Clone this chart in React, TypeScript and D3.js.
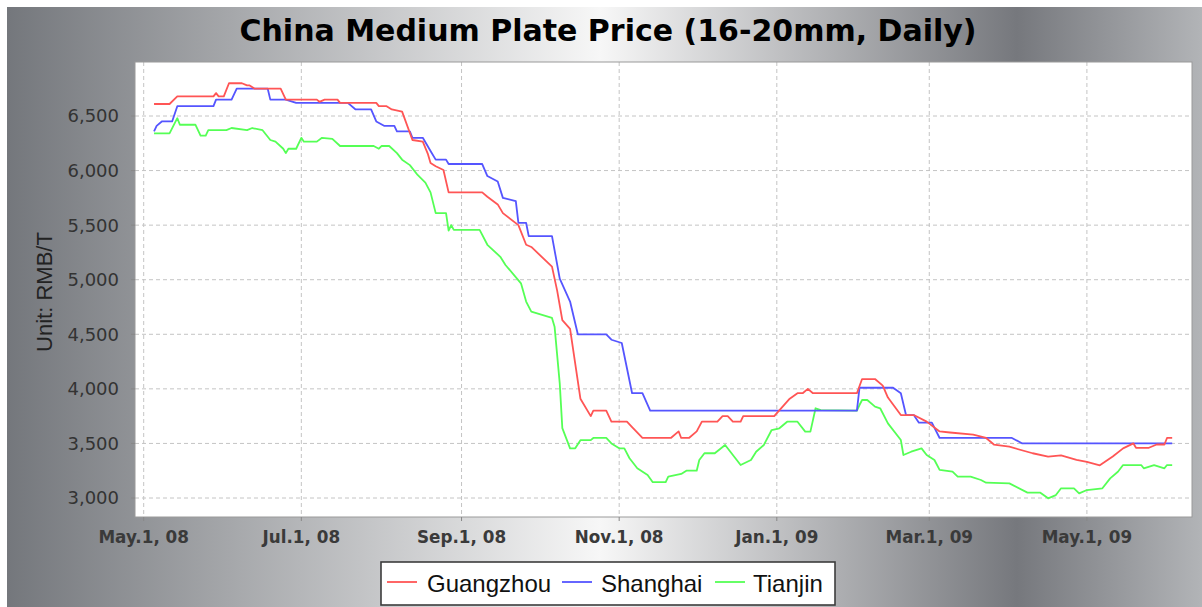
import React, { useEffect } from "react";
import * as d3 from "d3";

// ---- data (day offset from May 1, 2008, price RMB/T) ----
const guangzhou: [number, number][] = [
  [4, 6610], [10, 6610], [13, 6680], [27, 6680], [28, 6710], [29, 6680], [31, 6680], [33, 6800],
  [38, 6800], [40, 6780], [41, 6780], [43, 6750], [53, 6750], [55, 6650], [67, 6650], [68, 6630],
  [70, 6650], [75, 6650], [76, 6620], [90, 6620], [91, 6590], [94, 6590], [96, 6560], [100, 6540],
  [104, 6280], [108, 6265], [110, 6150], [111, 6070], [113, 6040], [116, 6005], [118, 5800],
  [131, 5800], [133, 5760], [137, 5690], [139, 5610], [145, 5500], [148, 5320], [150, 5300],
  [158, 5120], [160, 4900], [162, 4630], [165, 4550], [169, 3910], [173, 3750], [174, 3800],
  [179, 3800], [181, 3700], [187, 3700], [189, 3650], [193, 3550], [204, 3550], [207, 3610],
  [208, 3550], [211, 3550], [214, 3610], [216, 3700], [222, 3700], [224, 3750], [226, 3750],
  [228, 3700], [231, 3700], [232, 3750], [244, 3750], [250, 3910], [253, 3960], [255, 3960],
  [257, 4000], [259, 3960], [276, 3960], [278, 4090], [283, 4090], [286, 4030], [288, 3920],
  [293, 3760], [298, 3760], [303, 3700], [308, 3610], [312, 3600], [321, 3580], [326, 3550],
  [329, 3490], [335, 3470], [344, 3410], [350, 3380], [355, 3390], [361, 3350], [365, 3330],
  [370, 3300], [375, 3380], [379, 3455], [383, 3500], [384, 3460], [389, 3460], [392, 3490],
  [395, 3490], [396, 3550], [398, 3550],
];

const shanghai: [number, number][] = [
  [4, 6360], [5, 6410], [7, 6450], [11, 6450], [13, 6590], [27, 6590], [28, 6650], [34, 6650],
  [36, 6750], [48, 6750], [49, 6650], [55, 6650], [59, 6620], [79, 6620], [82, 6560], [88, 6560],
  [90, 6450], [93, 6410], [97, 6410], [98, 6360], [103, 6360], [104, 6300], [108, 6300],
  [111, 6180], [113, 6100], [117, 6100], [118, 6060], [131, 6060], [133, 5950], [137, 5900],
  [139, 5750], [144, 5720], [145, 5520], [148, 5520], [149, 5400], [158, 5400], [161, 5010],
  [165, 4800], [168, 4500], [179, 4500], [181, 4450], [185, 4420], [189, 3960], [193, 3960],
  [196, 3800], [276, 3800], [277, 4010], [290, 4010], [293, 3960], [295, 3760], [298, 3760],
  [300, 3690], [305, 3690], [308, 3550], [336, 3550], [340, 3500], [398, 3500],
];

const tianjin: [number, number][] = [
  [4, 6340], [10, 6340], [13, 6480], [14, 6420], [20, 6420], [22, 6320], [24, 6320], [25, 6370],
  [32, 6370], [34, 6390], [40, 6370], [42, 6390], [46, 6370], [48, 6310], [49, 6280], [51, 6265],
  [54, 6200], [55, 6160], [56, 6200], [59, 6200], [61, 6300], [62, 6265], [67, 6265], [69, 6300],
  [73, 6290], [76, 6225], [89, 6225], [91, 6200], [92, 6225], [95, 6225], [98, 6160], [100, 6100],
  [103, 6050], [106, 5960], [109, 5890], [111, 5800], [113, 5610], [117, 5610], [118, 5450],
  [119, 5500], [120, 5456], [130, 5456], [133, 5320], [138, 5210], [140, 5135], [146, 4967],
  [148, 4800], [150, 4707], [158, 4650], [159, 4570], [161, 4050], [162, 3640], [165, 3455],
  [167, 3455], [169, 3530], [173, 3530], [174, 3550], [179, 3550], [181, 3500], [184, 3455],
  [186, 3455], [188, 3364], [191, 3272], [195, 3211], [197, 3145], [202, 3145], [203, 3195],
  [208, 3220], [210, 3250], [214, 3250], [215, 3348], [217, 3410], [221, 3410], [225, 3486],
  [231, 3302], [235, 3348], [237, 3424], [240, 3486], [243, 3623], [246, 3639], [249, 3699],
  [253, 3699], [256, 3608], [258, 3608], [260, 3822], [262, 3805], [276, 3800], [277, 3852],
  [278, 3898], [280, 3898], [283, 3837], [285, 3822], [288, 3684], [293, 3531], [294, 3394],
  [297, 3424], [301, 3455], [303, 3394], [306, 3348], [308, 3257], [313, 3241], [315, 3195],
  [320, 3195], [324, 3165], [326, 3140], [335, 3134], [342, 3049], [347, 3049], [350, 2997],
  [353, 3027], [355, 3089], [360, 3089], [362, 3043], [365, 3073], [371, 3089], [374, 3180],
  [377, 3241], [379, 3302], [386, 3302], [387, 3272], [391, 3302], [395, 3272], [396, 3302],
  [398, 3302],
];

const seriesNames = ["Guangzhou", "Shanghai", "Tianjin"];
const seriesColors = ["#ff5555", "#5555ff", "#55ff55"];
const xTickDates = ["2008-05-01", "2008-07-01", "2008-09-01", "2008-11-01", "2009-01-01", "2009-03-01", "2009-05-01"];
const xTickLabels = ["May.1, 08", "Jul.1, 08", "Sep.1, 08", "Nov.1, 08", "Jan.1, 09", "Mar.1, 09", "May.1, 09"];
const yTicks = [3000, 3500, 4000, 4500, 5000, 5500, 6000, 6500];
const title = "China Medium Plate Price (16-20mm, Daily)";
const yAxisTitle = "Unit: RMB/T";

const BASE = Date.UTC(2008, 4, 1);
const dayToDate = (d: number) => new Date(BASE + d * 86400000);

export default function App() {
  useEffect(() => {
    document.body.style.margin = "0";
  }, []);

  const W = 1202, H = 607;
  const plot = { left: 135, top: 62, right: 1192, bottom: 517 };

  const x = d3.scaleUtc()
    .domain([new Date("2008-05-01T00:00:00Z"), new Date("2009-05-01T00:00:00Z")])
    .range([143.7, 1086.9]);
  const y = d3.scaleLinear().domain([3000, 6500]).range([498, 116]);

  const line = d3.line<[number, number]>()
    .x((d) => x(dayToDate(d[0])))
    .y((d) => y(d[1]));

  const series = [guangzhou, shanghai, tianjin];
  const fmt = d3.format(",");
  const tickFont = "'DejaVu Sans', sans-serif";

  const legendItems = [
    { lx: 387, tx: 427 },
    { lx: 562, tx: 601 },
    { lx: 715, tx: 753 },
  ];

  return (
    <svg width={W} height={H} style={{ display: "block" }}>
      <defs>
        <linearGradient id="bg" gradientUnits="userSpaceOnUse" x1={7} y1={0} x2={1202} y2={0}>
          <stop offset={0} stopColor="#74777c" />
          <stop offset={(600 - 7) / 1195} stopColor="#f7f7f7" />
          <stop offset={(1017 - 7) / 1195} stopColor="#76787d" />
          <stop offset={1} stopColor="#b2b4b7" />
        </linearGradient>
        <clipPath id="plotclip">
          <rect x={plot.left} y={plot.top} width={plot.right - plot.left} height={plot.bottom - plot.top} />
        </clipPath>
      </defs>
      <rect x={0} y={0} width={W} height={H} fill="#ffffff" />
      <rect x={7} y={7} width={W - 7} height={H - 7} fill="url(#bg)" />

      <text x={608} y={41} textAnchor="middle" fontFamily={tickFont} fontWeight="bold" fontSize={30} fill="#000">
        {title}
      </text>

      {/* plot area */}
      <rect x={plot.left} y={plot.top} width={plot.right - plot.left} height={plot.bottom - plot.top} fill="#ffffff" />

      {/* grid */}
      {yTicks.map((v) => (
        <line key={"gy" + v} x1={plot.left} x2={plot.right} y1={y(v)} y2={y(v)}
          stroke="#c4c4c4" strokeWidth={1} strokeDasharray="4,3" />
      ))}
      {xTickDates.map((d) => {
        const xx = x(new Date(d + "T00:00:00Z"));
        return (
          <line key={"gx" + d} x1={xx} x2={xx} y1={plot.top} y2={plot.bottom}
            stroke="#c4c4c4" strokeWidth={1} strokeDasharray="4,3" />
        );
      })}

      <g clipPath="url(#plotclip)">
        {series.map((s, i) => ({ s, i })).reverse().map(({ s, i }) => (
          <path key={seriesNames[i]} d={line(s) || ""} fill="none" stroke={seriesColors[i]}
            strokeWidth={1.8} strokeLinejoin="round" />
        ))}
      </g>

      <rect x={plot.left} y={plot.top} width={plot.right - plot.left} height={plot.bottom - plot.top}
        fill="none" stroke="#9a9a9a" strokeWidth={1} />

      {/* y axis */}
      {yTicks.map((v) => (
        <g key={"ty" + v}>
          <line x1={plot.left - 4} x2={plot.left} y1={y(v)} y2={y(v)} stroke="#888" />
          <text x={119} y={y(v)} dy="0.36em" textAnchor="end" fontFamily={tickFont} fontSize={18} fill="#333">
            {fmt(v)}
          </text>
        </g>
      ))}
      <text transform="translate(52,292) rotate(-90)" textAnchor="middle"
        fontFamily="'Liberation Sans', Arial, sans-serif" fontSize={22} fill="#222">
        {yAxisTitle}
      </text>

      {/* x axis */}
      {xTickDates.map((d, i) => {
        const xx = x(new Date(d + "T00:00:00Z"));
        return (
          <g key={"tx" + d}>
            <line x1={xx} x2={xx} y1={plot.bottom} y2={plot.bottom + 4} stroke="#888" />
            <text x={xx} y={543} textAnchor="middle" fontFamily={tickFont} fontWeight="bold" fontSize={16.8} fill="#3a3a3a">
              {xTickLabels[i]}
            </text>
          </g>
        );
      })}

      {/* legend */}
      <rect x={381} y={562} width={454} height={43} fill="#ffffff" stroke="#3c3c3c" strokeWidth={1.6} />
      {legendItems.map((it, i) => (
        <g key={"lg" + i}>
          <line x1={it.lx} x2={it.lx + 30} y1={582} y2={582} stroke={seriesColors[i]} strokeWidth={1.8} />
          <text x={it.tx} y={592} fontFamily="'Liberation Sans', Arial, sans-serif" fontSize={24} fill="#111">
            {seriesNames[i]}
          </text>
        </g>
      ))}
    </svg>
  );
}
